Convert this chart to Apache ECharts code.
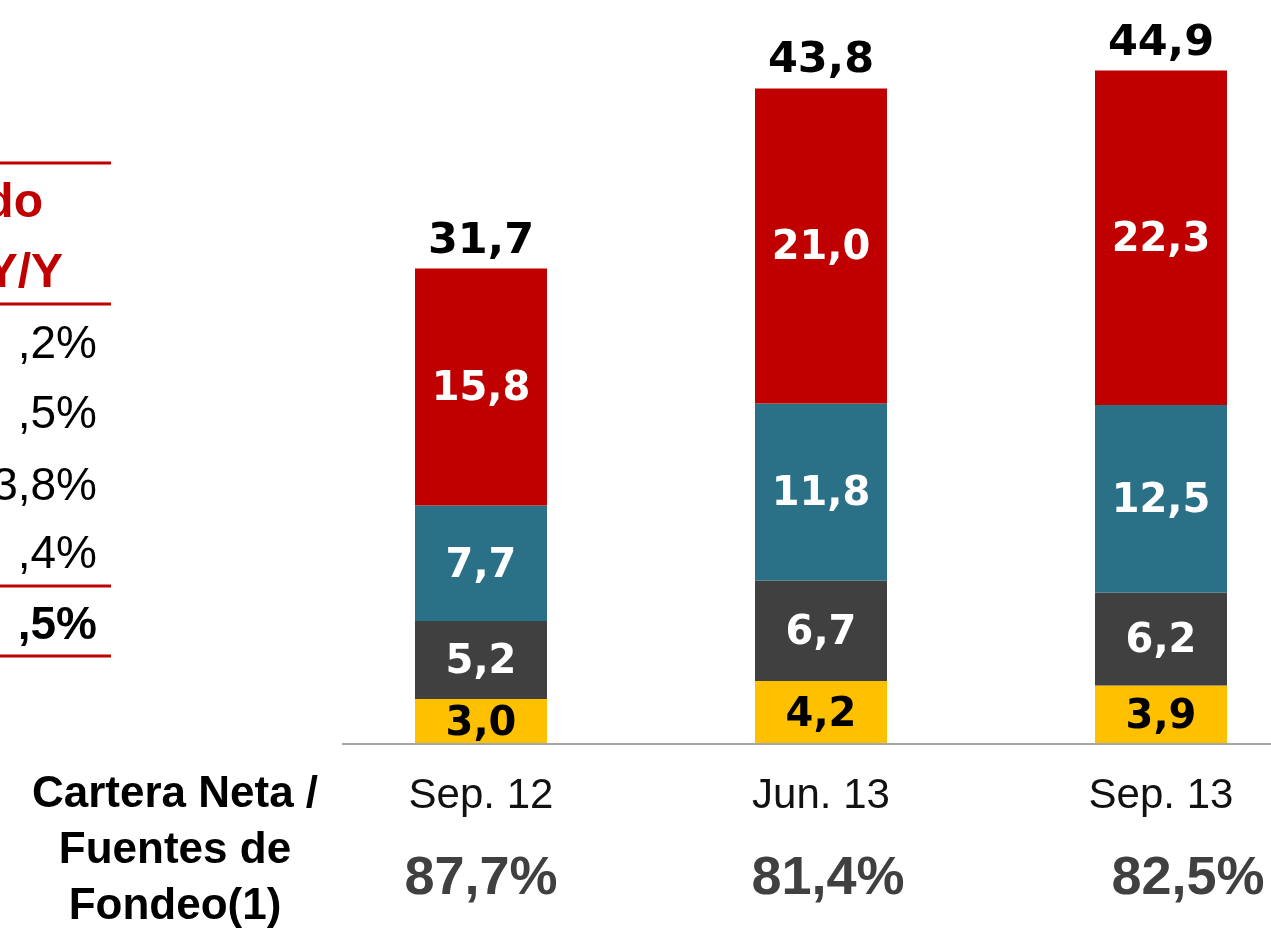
<!DOCTYPE html>
<html lang="es">

<head>
    <meta charset="UTF-8">
    <title>Cartera Neta / Fuentes de Fondeo</title>
    <style>
        html,
        body,
        #main {
            width: 100%;
            height: 100%;
            margin: 0;
            padding: 0;
            background-color: #ffffff;
        }
    </style>
    <script src="https://cdn.jsdelivr.net/npm/echarts@6.0.0/dist/echarts.min.js"></script>
</head>

<body>
    <div id="main"></div>
    <script>
        // data
        const categories = ['Sep. 12', 'Jun. 13', 'Sep. 13'];
        const yellowVals = [3.0, 4.2, 3.9];
        const darkVals = [5.2, 6.7, 6.2];
        const tealVals = [7.7, 11.8, 12.5];
        const redVals = [15.8, 21.0, 22.3];
        const totals = [31.7, 43.8, 44.9];
        const ratios = ['87,7%', '81,4%', '82,5%'];

        // partial table cut off on the left edge
        const tableHeader = ['do', 'Y/Y'];
        const tableRows = [',2%', ',5%', '3,8%', ',4%'];
        const tableTotal = ',5%';

        const fmt = v => v.toFixed(1).replace('.', ',');

        var chart = echarts.init(document.getElementById('main'));

        const inLabel = (color) => ({
            show: true,
            position: 'inside',
            offset: [0, 3],
            formatter: p => fmt(p.value),
            color: color,
            fontFamily: 'DejaVu Sans',
            fontWeight: 'bold',
            fontSize: 40
        });

        function barSeries(name, vals, color, labelColor) {
            return {
                name: name,
                type: 'bar',
                stack: 'total',
                barWidth: 132,
                data: vals,
                itemStyle: { color: color },
                label: inLabel(labelColor)
            };
        }

        const red = '#C00000';
        const lineStyle = { stroke: red, lineWidth: 3 };

        const graphics = [
            // base line
            { type: 'line', shape: { x1: 342, y1: 744, x2: 1271, y2: 744 }, style: { stroke: '#A6A6A6', lineWidth: 2 }, z: 10 },
            // table rules
            { type: 'line', shape: { x1: 0, y1: 163, x2: 111, y2: 163 }, style: lineStyle },
            { type: 'line', shape: { x1: 0, y1: 304, x2: 111, y2: 304 }, style: lineStyle },
            { type: 'line', shape: { x1: 0, y1: 586, x2: 111, y2: 586 }, style: lineStyle },
            { type: 'line', shape: { x1: 0, y1: 656, x2: 111, y2: 656 }, style: lineStyle },
            {
                type: 'text', x: 43, y: 204,
                style: { text: tableHeader[0], fill: red, font: 'bold 48px "Liberation Sans", Arial', textAlign: 'right', textVerticalAlign: 'middle' }
            },
            {
                type: 'text', x: 63, y: 274,
                style: { text: tableHeader[1], fill: red, font: 'bold 48px "Liberation Sans", Arial', textAlign: 'right', textVerticalAlign: 'middle' }
            },
            {
                type: 'text', x: 175, y: 851,
                style: {
                    text: 'Cartera Neta /\nFuentes de\nFondeo(1)',
                    fill: '#000',
                    font: 'bold 44px "Liberation Sans", Arial',
                    lineHeight: 56,
                    textAlign: 'center',
                    textVerticalAlign: 'middle'
                }
            }
        ];
        const rowY = [345, 415, 487, 555];
        tableRows.forEach((t, i) => {
            graphics.push({
                type: 'text', x: 97, y: rowY[i],
                style: { text: t, fill: '#000', font: '46px "Liberation Sans", Arial', textAlign: 'right', textVerticalAlign: 'middle' }
            });
        });
        graphics.push({
            type: 'text', x: 97, y: 626,
            style: { text: tableTotal, fill: '#000', font: 'bold 46px "Liberation Sans", Arial', textAlign: 'right', textVerticalAlign: 'middle' }
        });

        var option = {
            animation: false,
            grid: { left: 311, width: 1020, top: 24, bottom: 187, outerBoundsMode: 'none', containLabel: false },
            xAxis: {
                type: 'category',
                data: categories,
                axisLine: { show: false },
                axisTick: { show: false },
                axisLabel: {
                    margin: 27,
                    interval: 0,
                    formatter: (value, index) => '{c|' + value + '}\n{p' + index + '|' + ratios[index] + '}',
                    rich: {
                        c: { fontSize: 42, color: '#111', lineHeight: 50, fontFamily: 'Liberation Sans' },
                        p0: { fontSize: 54, fontWeight: 'bold', color: '#404040', lineHeight: 116, fontFamily: 'Liberation Sans', padding: [0, 0, 0, 0] },
                        p1: { fontSize: 54, fontWeight: 'bold', color: '#404040', lineHeight: 116, fontFamily: 'Liberation Sans', padding: [0, 0, 0, 14] },
                        p2: { fontSize: 54, fontWeight: 'bold', color: '#404040', lineHeight: 116, fontFamily: 'Liberation Sans', padding: [0, 0, 0, 54] }
                    }
                }
            },
            yAxis: {
                type: 'value',
                min: 0,
                max: 48,
                show: false,
                splitLine: { show: false }
            },
            series: [
                barSeries('a', yellowVals, '#FFC000', '#000'),
                barSeries('b', darkVals, '#404040', '#fff'),
                barSeries('c', tealVals, '#2A7086', '#fff'),
                barSeries('d', redVals, '#C00000', '#fff'),
                {
                    name: 'total',
                    type: 'scatter',
                    data: totals,
                    symbolSize: 2,
                    itemStyle: { color: 'rgba(0,0,0,0)' },
                    label: {
                        show: true,
                        position: 'top',
                        distance: 4,
                        formatter: p => fmt(p.value),
                        color: '#000',
                        opacity: 1,
                        fontFamily: 'DejaVu Sans',
                        fontWeight: 'bold',
                        fontSize: 43
                    }
                }
            ],
            graphic: graphics
        };

        chart.setOption(option);
    </script>
</body>

</html>
